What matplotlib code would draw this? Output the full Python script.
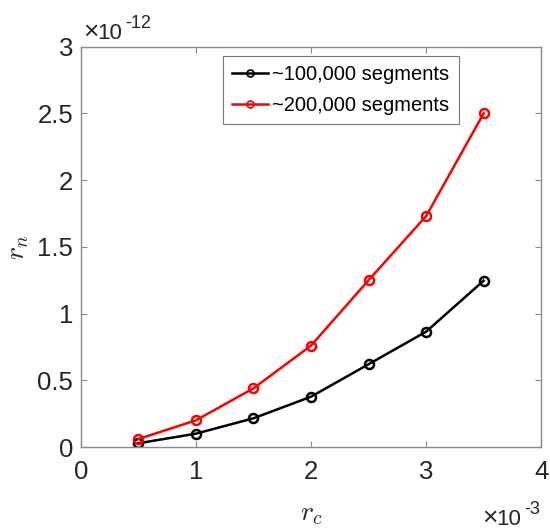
import matplotlib
matplotlib.use("Agg")
import matplotlib.pyplot as plt
from matplotlib.ticker import FuncFormatter, MultipleLocator

# data (x in units of 1e-3, y in units of 1e-12)
rc_vals = [0.5, 1.0, 1.5, 2.0, 2.5, 3.0, 3.5]
rn_100k = [0.028, 0.10, 0.215, 0.377, 0.62, 0.864, 1.246]
rn_200k = [0.06, 0.20, 0.44, 0.76, 1.25, 1.73, 2.50]
labels = ["~100,000 segments", "~200,000 segments"]

x_scale = 1e-3
y_scale = 1e-12

plt.rcParams["font.family"] = ["Liberation Sans", "DejaVu Sans"]
plt.rcParams["mathtext.fontset"] = "cm"

gray = "#262626"
axis_gray = "#8a8a8a"

fig = plt.figure(figsize=(5.5, 5.29), dpi=100)
ax = fig.add_axes([0.147, 0.155, 0.837, 0.757])

x = [v * x_scale for v in rc_vals]
ax.plot(x, [v * y_scale for v in rn_100k], color="black", lw=1.8, marker="o",
        ms=6.5, mfc="none", mew=1.8, label=labels[0])
ax.plot(x, [v * y_scale for v in rn_200k], color="red", lw=1.8, marker="o",
        ms=6.5, mfc="none", mew=1.8, label=labels[1])

ax.set_xlim(0, 4 * x_scale)
ax.set_ylim(0, 3 * y_scale)
ax.xaxis.set_major_locator(MultipleLocator(1 * x_scale))
ax.yaxis.set_major_locator(MultipleLocator(0.5 * y_scale))
ax.xaxis.set_major_formatter(FuncFormatter(lambda v, p: f"{v / x_scale:g}"))
ax.yaxis.set_major_formatter(FuncFormatter(lambda v, p: f"{v / y_scale:g}"))

ax.tick_params(direction="in", length=4, width=0.8, color=axis_gray,
               labelcolor=gray, labelsize=18.5, top=True, right=True)
ax.tick_params(axis="y", pad=5.5)
ax.tick_params(axis="x", pad=9)
for sp in ax.spines.values():
    sp.set_color(axis_gray)
    sp.set_linewidth(1.0)

ax.set_xlabel(r"$r_c$", fontsize=20, color=gray)
ax.set_ylabel(r"$r_n$", fontsize=20, color=gray)
ax.xaxis.set_label_coords(0.5, -0.135)
ax.yaxis.set_label_coords(-0.108, 0.5)


def exponent_label(x0, y_base, power):
    # MATLAB-style "x10^p" placed above/below the axes
    ax.text(x0, y_base, "\u00d7", transform=ax.transAxes, fontsize=19,
            color=gray, ha="left", va="baseline")
    ax.text(x0 + 0.031, y_base, "10", transform=ax.transAxes, fontsize=16,
            color=gray, ha="left", va="baseline")
    ax.text(x0 + 0.092, y_base + 0.027, power, transform=ax.transAxes,
            fontsize=13, color=gray, ha="left", va="baseline")


exponent_label(0.004, 1.019, "-12")
exponent_label(0.872, -0.195, "-3")

leg = ax.legend(loc="upper left", bbox_to_anchor=(0.309, 0.976), fontsize=14.5,
                frameon=True, fancybox=False, edgecolor="#555555",
                borderpad=0.45, handlelength=1.8, handletextpad=0.2,
                labelspacing=0.6, borderaxespad=0)
leg.get_frame().set_linewidth(0.8)
for line in leg.get_lines():
    line.set_markersize(5)
    line.set_markeredgewidth(1.2)

fig.savefig("out.png", dpi=100)
